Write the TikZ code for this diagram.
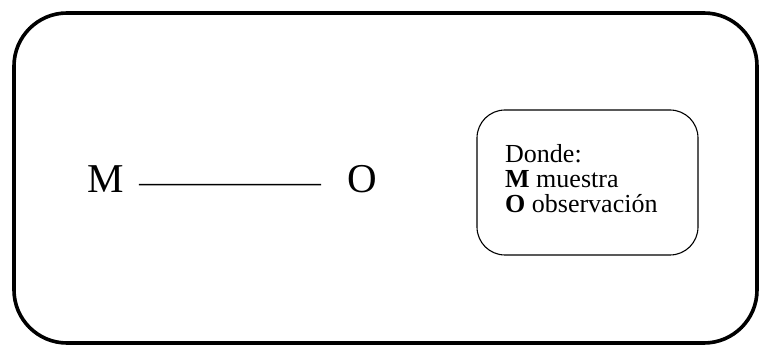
\documentclass[tikz,border=0pt]{standalone}
\usepackage{fontspec}
\setmainfont{Liberation Serif}
\begin{document}
\begin{tikzpicture}[x=1pt,y=-1pt,
  outerframe/.style={draw=black,line width=3.6pt,rounded corners=53pt},
  innerframe/.style={draw=black,line width=1.1pt,rounded corners=28pt},
  bigletter/.style={inner sep=0pt,anchor=base west,font=\fontsize{41}{45}\selectfont},
  legend/.style={inner sep=0pt,anchor=base west,align=left,font=\fontsize{26}{25}\selectfont}]
\useasboundingbox (0,0) rectangle (761,347);
\draw[outerframe] (14,13) rectangle (757,343);
\draw[innerframe] (477,110) rectangle (698,255);
\node[bigletter] (M) at (87,193) {M};
\node[bigletter] (O) at (347,193) {O};
\draw[line width=1.5pt,shorten <=15pt,shorten >=26pt] ([yshift=-5pt]M.east) -- ([yshift=-5pt]O.west);
\node[legend] (L) at (505,213) {Donde:\\\textbf{M} muestra\\\textbf{O} observación};
\end{tikzpicture}
\end{document}
